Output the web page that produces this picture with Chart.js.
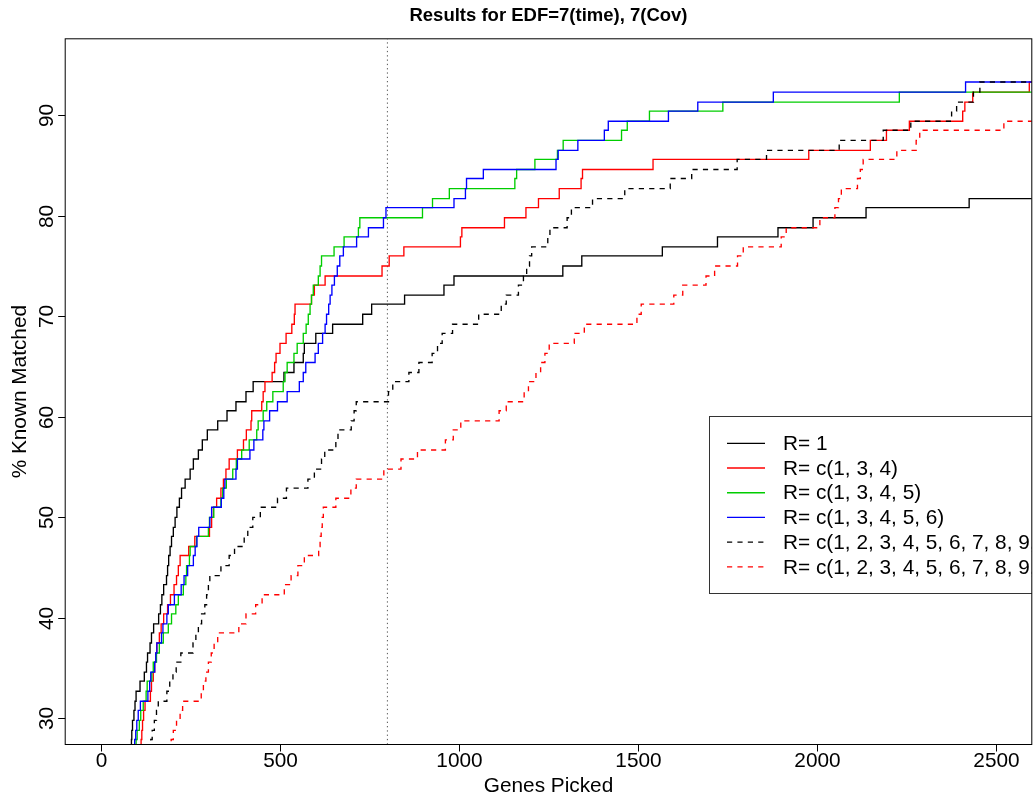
<!DOCTYPE html>
<html>
<head>
<meta charset="utf-8">
<script src="https://cdn.jsdelivr.net/npm/chart.js@4/dist/chart.umd.min.js"></script>
<style>
html,body{margin:0;padding:0;background:#fff;overflow:hidden;}
#wrap{width:1034px;height:798px;}
</style>
</head>
<body>
<div id="wrap"><canvas id="c" width="1034" height="798"></canvas></div>
<script>
// ---- data ----
const chartTitle = "Results for EDF=7(time), 7(Cov)";
const xTitle = "Genes Picked";
const yTitle = "% Known Matched";
const xTicks = [0, 500, 1000, 1500, 2000, 2500];
const yTicks = [30, 40, 50, 60, 70, 80, 90];
const cutoffGenes = 800;

const seriesLabels = [
  "R= 1",
  "R= c(1, 3, 4)",
  "R= c(1, 3, 4, 5)",
  "R= c(1, 3, 4, 5, 6)",
  "R= c(1, 2, 3, 4, 5, 6, 7, 8, 9, 10)",
  "R= c(1, 2, 3, 4, 5, 6, 7, 8, 9, 10)"
];

// R = 1 (black solid)
const r1Genes = [84,85,86,88,92,95,98,109,121,127,130,137,141,147,161,166,170,175,183,186,189,193,197,202,207,212,219,225,235,249,258,272,283,297,326,352,377,405,425,511,539,565,568,600,647,731,756,848,958,986,1290,1343,1568,1722,1891,1989,2137,2425,2600];
const r1Pct = [26.9,27.9,28.8,29.8,30.8,31.7,32.7,33.7,34.6,35.6,36.5,37.5,38.5,39.4,40.4,41.3,42.3,43.3,44.2,45.2,46.2,47.1,48.1,49.0,50.0,51.0,51.9,52.9,53.8,54.8,55.8,56.7,57.7,58.7,59.6,60.6,61.5,62.5,63.5,64.4,65.4,66.3,67.3,68.3,69.2,70.2,71.2,72.1,73.1,74.0,75.0,76.0,76.9,77.9,78.8,79.8,80.8,81.7,81.7];

// R = c(1,3,4) (red solid)
const r134Genes = [110,112,114,116,119,123,138,141,146,150,153,156,163,168,175,186,194,204,211,216,221,245,262,303,309,314,323,335,342,349,358,381,398,406,419,421,449,453,458,478,485,489,500,517,533,540,542,588,596,626,785,805,846,1004,1008,1127,1187,1222,1280,1341,1345,1542,1977,2149,2194,2258,2407,2413,2435,2593,2600];
const r134Pct = [26.9,27.9,28.8,29.8,30.8,31.7,32.7,33.7,34.6,35.6,36.5,37.5,38.5,39.4,40.4,41.3,42.3,43.3,44.2,45.2,46.2,47.1,48.1,49.0,50.0,51.0,51.9,52.9,53.8,54.8,55.8,56.7,57.7,58.7,59.6,60.6,61.5,62.5,63.5,64.4,65.4,66.3,67.3,68.3,69.2,70.2,71.2,72.1,73.1,74.0,75.0,76.0,76.9,77.9,78.8,79.8,80.8,81.7,82.7,83.7,84.6,85.6,86.5,87.5,88.5,89.4,90.4,91.3,92.3,93.3,93.3];

// R = c(1,3,4,5) (green solid)
const r1345Genes = [95,98,101,107,111,118,126,129,142,146,155,163,174,188,197,209,216,230,237,239,247,249,267,300,303,315,335,340,350,368,378,393,414,435,439,453,463,480,509,514,520,539,548,565,573,579,584,588,593,607,612,616,651,679,719,723,898,926,973,1156,1161,1212,1275,1291,1454,1470,1532,1737,2230,2600];
const r1345Pct = [26.9,27.9,28.8,29.8,30.8,31.7,32.7,33.7,34.6,35.6,36.5,37.5,38.5,39.4,40.4,41.3,42.3,43.3,44.2,45.2,46.2,47.1,48.1,49.0,50.0,51.0,51.9,52.9,53.8,54.8,55.8,56.7,57.7,58.7,59.6,60.6,61.5,62.5,63.5,64.4,65.4,66.3,67.3,68.3,69.2,70.2,71.2,72.1,73.1,74.0,75.0,76.0,76.9,77.9,78.8,79.8,80.8,81.7,82.7,83.7,84.6,85.6,86.5,87.5,88.5,89.4,90.4,91.3,92.3,92.3];

// R = c(1,3,4,5,6) (blue solid)
const r13456Genes = [92,94,97,100,104,110,131,136,139,150,153,156,169,173,184,188,205,224,232,242,258,263,268,273,304,309,336,343,346,377,381,416,427,452,455,471,493,520,554,565,572,598,607,619,626,630,636,640,645,652,660,667,677,714,747,789,796,986,1018,1021,1068,1271,1277,1332,1406,1417,1585,1667,1878,2415,2600];
const r13456Pct = [26.9,27.9,28.8,29.8,30.8,31.7,32.7,33.7,34.6,35.6,36.5,37.5,38.5,39.4,40.4,41.3,42.3,43.3,44.2,45.2,46.2,47.1,48.1,49.0,50.0,51.0,51.9,52.9,53.8,54.8,55.8,56.7,57.7,58.7,59.6,60.6,61.5,62.5,63.5,64.4,65.4,66.3,67.3,68.3,69.2,70.2,71.2,72.1,73.1,74.0,75.0,76.0,76.9,77.9,78.8,79.8,80.8,81.7,82.7,83.7,84.6,85.6,86.5,87.5,88.5,89.4,90.4,91.3,92.3,93.3,93.3];

// R = c(1..10) (black dashed)
const rAllGenes = [135,139,143,149,155,160,184,192,201,210,223,257,265,272,281,290,295,300,304,335,358,373,400,410,424,445,493,518,578,596,616,625,656,662,699,707,713,803,815,860,888,925,940,953,982,1055,1118,1132,1166,1180,1189,1197,1203,1248,1254,1302,1314,1373,1463,1590,1650,1777,1859,2062,2185,2262,2376,2390,2437,2455,2600];
const rAllPct = [26.9,27.9,28.8,29.8,30.8,31.7,32.7,33.7,34.6,35.6,36.5,37.5,38.5,39.4,40.4,41.3,42.3,43.3,44.2,45.2,46.2,47.1,48.1,49.0,50.0,51.0,51.9,52.9,53.8,54.8,55.8,56.7,57.7,58.7,59.6,60.6,61.5,62.5,63.5,64.4,65.4,66.3,67.3,68.3,69.2,70.2,71.2,72.1,73.1,74.0,75.0,76.0,76.9,77.9,78.8,79.8,80.8,81.7,82.7,83.7,84.6,85.6,86.5,87.5,88.5,89.4,90.4,91.3,92.3,93.3,93.3];

// R = c(1..10) (red dashed)
const rAll2Genes = [190,196,202,211,221,228,280,286,293,300,308,316,326,385,405,432,450,512,531,550,568,608,612,615,618,621,656,698,713,790,838,884,962,984,1005,1112,1132,1182,1194,1215,1228,1240,1252,1322,1350,1497,1509,1600,1625,1690,1714,1778,1794,1900,1914,2008,2050,2060,2068,2113,2121,2129,2223,2277,2287,2522,2600];
const rAll2Pct = [26.9,27.9,28.8,29.8,30.8,31.7,32.7,33.7,34.6,35.6,36.5,37.5,38.5,39.4,40.4,41.3,42.3,43.3,44.2,45.2,46.2,47.1,48.1,49.0,50.0,51.0,51.9,52.9,53.8,54.8,55.8,56.7,57.7,58.7,59.6,60.6,61.5,62.5,63.5,64.4,65.4,66.3,67.3,68.3,69.2,70.2,71.2,72.1,73.1,74.0,75.0,76.0,76.9,77.9,78.8,79.8,80.8,81.7,82.7,83.7,84.6,85.6,86.5,87.5,88.5,89.4,89.4];

// axis ranges (R default 4% extension of 0..2500 and 30..95)
const xRange = [-100, 2600];
const yRange = [27.4, 97.6];

// ---- build chart ----
const FONT = "'Liberation Sans', Arial, Helvetica, sans-serif";
const TXT = '20.8px ' + FONT;
function pts(xs, ys) { return xs.map((v, i) => ({x: v, y: ys[i]})); }

const styles = [
  {color: '#000000', dash: []},
  {color: '#FF0000', dash: []},
  {color: '#00CD00', dash: []},
  {color: '#0000FF', dash: []},
  {color: '#000000', dash: [5.2, 5.2]},
  {color: '#FF0000', dash: [5.2, 5.2]}
];
const seriesData = [
  pts(r1Genes, r1Pct),
  pts(r134Genes, r134Pct),
  pts(r1345Genes, r1345Pct),
  pts(r13456Genes, r13456Pct),
  pts(rAllGenes, rAllPct),
  pts(rAll2Genes, rAll2Pct)
];

const datasets = seriesData.map((d, i) => ({
  label: seriesLabels[i],
  data: d,
  borderColor: styles[i].color,
  borderDash: styles[i].dash,
  borderWidth: 1.35,
  stepped: true,
  pointRadius: 0,
  fill: false,
  tension: 0,
  order: 6 - i
}));
datasets.push({
  label: 'cutoff',
  data: [{x: cutoffGenes, y: yRange[0]}, {x: cutoffGenes, y: yRange[1]}],
  borderColor: '#555555',
  borderDash: [1.3, 3],
  borderWidth: 1,
  pointRadius: 0,
  fill: false,
  order: 10
});

const rStyle = {
  id: 'rStyle',
  afterDatasetsDraw(chart) {
    const {ctx, chartArea: a, scales} = chart;
    const xs = scales.x, ys = scales.y;
    // legend (clipped by the plot region like R)
    ctx.save();
    ctx.beginPath();
    ctx.rect(a.left, a.top, a.right - a.left, a.bottom - a.top);
    ctx.clip();
    const lx = 709.5, ly = 416.5, lh = 177;
    ctx.fillStyle = '#fff';
    ctx.fillRect(lx, ly, 400, lh);
    ctx.strokeStyle = '#333';
    ctx.lineWidth = 1;
    ctx.setLineDash([]);
    ctx.strokeRect(lx, ly, 400, lh);
    ctx.font = TXT;
    ctx.textBaseline = 'middle';
    ctx.textAlign = 'left';
    for (let i = 0; i < 6; i++) {
      const yy = 443.3 + i * 24.7;
      ctx.strokeStyle = styles[i].color;
      ctx.lineWidth = 1.35;
      ctx.setLineDash(styles[i].dash);
      ctx.beginPath();
      ctx.moveTo(727, yy);
      ctx.lineTo(765, yy);
      ctx.stroke();
      ctx.setLineDash([]);
      ctx.fillStyle = '#000';
      ctx.fillText(chart.data.datasets[i].label, 783, yy + 1);
    }
    ctx.restore();

    // box
    ctx.save();
    ctx.strokeStyle = '#000';
    ctx.lineWidth = 1;
    ctx.setLineDash([]);
    ctx.strokeRect(a.left, a.top, a.right - a.left, a.bottom - a.top);
    ctx.fillStyle = '#000';
    ctx.font = TXT;
    // x ticks
    ctx.textAlign = 'center';
    ctx.textBaseline = 'alphabetic';
    xTicks.forEach(v => {
      const px = Math.round(xs.getPixelForValue(v)) + 0.5;
      ctx.beginPath();
      ctx.moveTo(px, a.bottom);
      ctx.lineTo(px, a.bottom + 7);
      ctx.stroke();
      ctx.fillText(String(v), px, 767);
    });
    // y ticks (rotated labels)
    yTicks.forEach(v => {
      const py = Math.round(ys.getPixelForValue(v)) + 0.5;
      ctx.beginPath();
      ctx.moveTo(a.left - 7, py);
      ctx.lineTo(a.left, py);
      ctx.stroke();
      ctx.save();
      ctx.translate(53, py);
      ctx.rotate(-Math.PI / 2);
      ctx.fillText(String(v), 0, 0);
      ctx.restore();
    });
    // axis titles
    const cx = (a.left + a.right) / 2, cy = (a.top + a.bottom) / 2;
    ctx.fillText(xTitle, cx, 792);
    ctx.save();
    ctx.translate(26, cy);
    ctx.rotate(-Math.PI / 2);
    ctx.fillText(yTitle, 0, 0);
    ctx.restore();
    // main title
    ctx.font = 'bold 18.5px ' + FONT;
    ctx.fillText(chartTitle, cx, 21);
    ctx.restore();
  }
};

new Chart(document.getElementById('c'), {
  type: 'line',
  data: {datasets},
  options: {
    responsive: false,
    animation: false,
    devicePixelRatio: 1,
    events: [],
    layout: {padding: {left: 65.2, right: 2.2, top: 38.8, bottom: 53.5}},
    scales: {
      x: {type: 'linear', min: xRange[0], max: xRange[1], display: false},
      y: {type: 'linear', min: yRange[0], max: yRange[1], display: false}
    },
    plugins: {legend: {display: false}, title: {display: false}, tooltip: {enabled: false}}
  },
  plugins: [rStyle]
});
</script>
</body>
</html>
